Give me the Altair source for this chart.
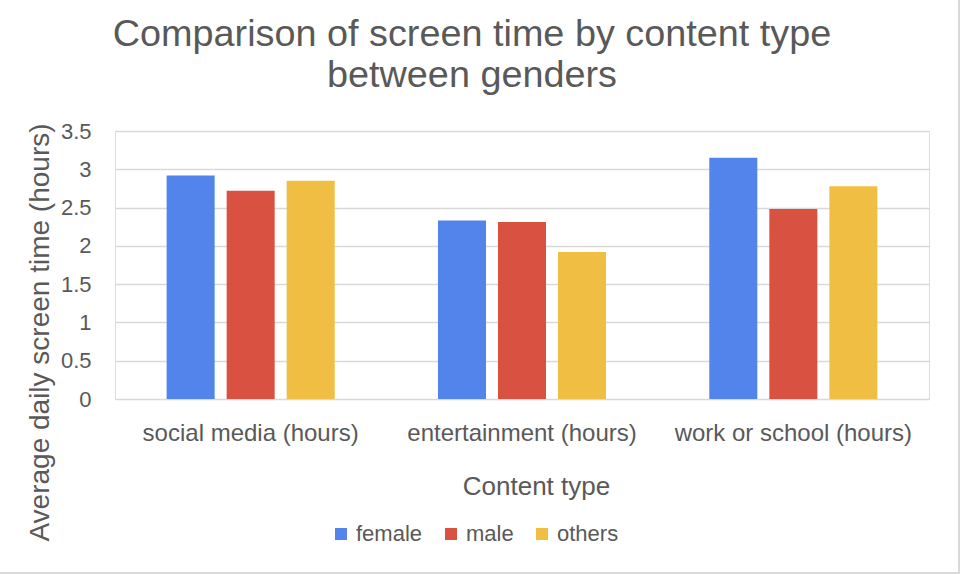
import altair as alt
import pandas as pd

# Average daily screen time (hours) per content type, split by gender
content_types = ["social media (hours)", "entertainment (hours)", "work or school (hours)"]
genders = ["female", "male", "others"]
female_hours = [2.92, 2.33, 3.15]
male_hours = [2.72, 2.31, 2.48]
others_hours = [2.85, 1.92, 2.78]
y_ticks = [0, 0.5, 1, 1.5, 2, 2.5, 3, 3.5]
colors = ["#5284EB", "#D95141", "#F0BE42"]

rows = []
for g, vals in zip(genders, [female_hours, male_hours, others_hours]):
    for c, v in zip(content_types, vals):
        rows.append({"content": c, "gender": g, "hours": v})
df = pd.DataFrame(rows)

FONT = "Liberation Sans"
TEXT = "#595959"
GRID = "#d9d9d9"

bars = alt.Chart(df).mark_bar().encode(
    x=alt.X(
        "content:N",
        sort=content_types,
        scale=alt.Scale(paddingInner=0, paddingOuter=0),
        axis=alt.Axis(
            title="Content type",
            domain=False,
            ticks=False,
            grid=False,
            labelAngle=0,
            labelLimit=0,
            labelFontSize=24,
            labelColor=TEXT,
            labelFont=FONT,
            labelBaseline="alphabetic",
            labelPadding=41,
            titleFontSize=26,
            titleColor=TEXT,
            titleFont=FONT,
            titleFontWeight="normal",
            titleX=421,
            titleY=95,
            titleBaseline="alphabetic",
            titleAlign="center",
        ),
    ),
    xOffset=alt.XOffset(
        "gender:N",
        sort=genders,
        scale=alt.Scale(paddingInner=0.2, paddingOuter=0.86),
    ),
    y=alt.Y(
        "hours:Q",
        scale=alt.Scale(domain=[0, 3.5], nice=False),
        axis=alt.Axis(
            title="Average daily screen time (hours)",
            values=y_ticks,
            format="~f",
            domain=False,
            ticks=False,
            gridColor=GRID,
            gridWidth=1.4,
            labelFontSize=22,
            labelColor=TEXT,
            labelFont=FONT,
            labelPadding=24,
            labelBaseline="middle",
            titleFontSize=28,
            titleColor=TEXT,
            titleFont=FONT,
            titleFontWeight="normal",
            titleAngle=270,
            titleX=-75,
            titleY=201,
            titleAlign="center",
            titleBaseline="middle",
        ),
    ),
    color=alt.Color(
        "gender:N",
        sort=genders,
        scale=alt.Scale(domain=genders, range=colors),
        legend=alt.Legend(
            title=None,
            orient="none",
            direction="horizontal",
            legendX=215,
            legendY=392,
            symbolType="square",
            symbolSize=144,
            symbolStrokeWidth=0,
            labelFontSize=22,
            labelColor=TEXT,
            labelFont=FONT,
            labelOffset=4,
            columnPadding=17,
        ),
    ),
)

# Light frame along the right and bottom edges of the canvas
frame_right = alt.Chart(alt.Data(values=[{}])).mark_rule(color=GRID, strokeWidth=2).encode(
    x=alt.value(844), y=alt.value(-131), y2=alt.value(443)
)
frame_bottom = alt.Chart(alt.Data(values=[{}])).mark_rule(color=GRID, strokeWidth=2).encode(
    x=alt.value(-115), x2=alt.value(845), y=alt.value(442)
)

chart = (
    alt.layer(bars, frame_right, frame_bottom)
    .properties(
        width=814,
        height=268,
        autosize=alt.AutoSizeParams(type="none"),
        padding={"left": 115, "top": 131, "right": 33, "bottom": 175},
        title=alt.TitleParams(
            text=["Comparison of screen time by content type", "between genders"],
            fontSize=37.8,
            font=FONT,
            color=TEXT,
            fontWeight="normal",
            anchor="middle",
            frame="group",
            baseline="alphabetic",
            offset=-126,
            dx=-50,
            lineHeight=41,
        ),
    )
    .configure_view(stroke=None)
    .configure(background="white")
)

chart.save("out.html", embed_options={"renderer": "svg", "actions": False})
